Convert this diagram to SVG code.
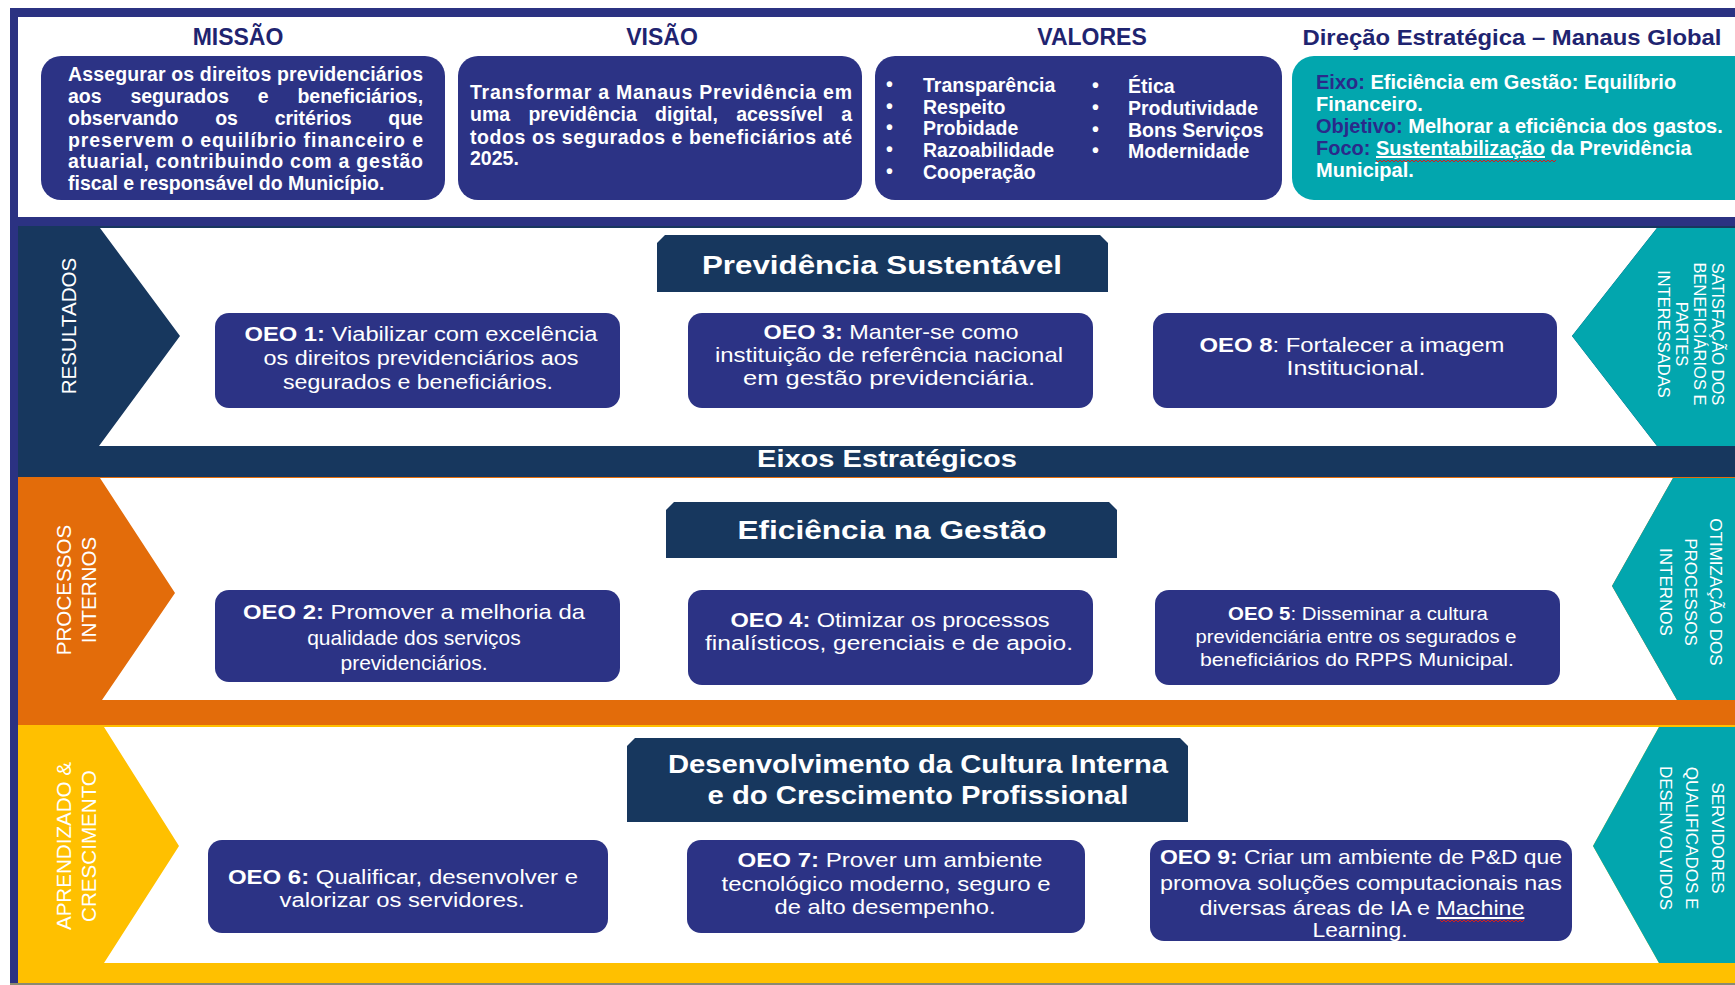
<svg xmlns="http://www.w3.org/2000/svg" width="1735" height="985" viewBox="0 0 1735 985">
<style>
text{font-family:"Liberation Sans",Arial,sans-serif}
.ttl{fill:#1F2470;font-weight:bold;font-size:23px;text-anchor:middle}
.top{fill:#ffffff;font-weight:bold;font-size:19.5px}
.box{fill:#2C3385}
.hdr{fill:#17375E}
.teal{fill:#02A6AE}
.oeo{fill:#ffffff;font-size:20px;text-anchor:middle}
.hd{fill:#ffffff;font-weight:bold;font-size:26px;text-anchor:middle}
.lab{fill:#ffffff;font-size:20.6px;text-anchor:middle}
.rlab{fill:#ffffff;font-size:16px;text-anchor:middle}
.nv{fill:#2A2A8A;font-weight:bold}
.wavy{fill:none;stroke:#D02020;stroke-width:1}
</style>
<rect x="0" y="0" width="1735" height="985" fill="#ffffff"/>
<!-- frame -->
<rect x="10" y="8" width="1725" height="977" fill="#2B3282"/>
<rect x="18" y="17" width="1717" height="200" fill="#ffffff"/>

<!-- band 1 -->
<g id="band-resultados">
<rect x="18" y="226" width="1717" height="251" fill="#17375E"/>
<polygon points="100,228 1657,228 1572,336 1657,446 99,446 180,336" fill="#ffffff"/>
<polygon points="1657,228 1735,228 1735,446 1657,446 1572,336" class="teal"/>
<text class="lab" transform="translate(76,326) rotate(-90)">RESULTADOS</text>
<text class="rlab" transform="translate(1712,334) rotate(90)" style="font-size:16.5px"><tspan x="0" y="0">SATISFAÇÃO DOS</tspan><tspan x="0" dy="18">BENEFICIÁRIOS E</tspan><tspan x="0" dy="18">PARTES</tspan><tspan x="0" dy="18">INTERESSADAS</tspan></text>
<text class="hd" x="887" y="467" style="font-size:24px" textLength="260" lengthAdjust="spacingAndGlyphs">Eixos Estratégicos</text>
</g>

<!-- band 2 -->
<g id="band-processos">
<rect x="18" y="477" width="1717" height="248" fill="#E36C0A"/>
<polygon points="100,478 1673,478 1612,586 1677,700 102,700 175,593" fill="#ffffff"/>
<polygon points="1673,478 1735,478 1735,700 1677,700 1612,586" class="teal"/>
<text class="lab" transform="translate(70.5,590) rotate(-90)"><tspan x="0" y="0">PROCESSOS</tspan><tspan x="0" dy="25.5">INTERNOS</tspan></text>
<text class="rlab" transform="translate(1710,592) rotate(90)" style="font-size:17px"><tspan x="0" y="0">OTIMIZAÇÃO DOS</tspan><tspan x="0" dy="25">PROCESSOS</tspan><tspan x="0" dy="25">INTERNOS</tspan></text>
</g>

<!-- band 3 -->
<g id="band-aprendizado">
<rect x="18" y="725" width="1717" height="258" fill="#FFC000"/>
<polygon points="104,727 1659,727 1593,846 1659,963 104,963 179,846" fill="#ffffff"/>
<polygon points="1659,727 1735,727 1735,963 1659,963 1593,846" class="teal"/>
<text class="lab" transform="translate(70.5,846) rotate(-90)"><tspan x="0" y="0">APRENDIZADO &amp;</tspan><tspan x="0" dy="25.5">CRESCIMENTO</tspan></text>
<text class="rlab" transform="translate(1712,838) rotate(90)" style="font-size:17px"><tspan x="0" y="0">SERVIDORES</tspan><tspan x="0" dy="26">QUALIFICADOS E</tspan><tspan x="0" dy="26">DESENVOLVIDOS</tspan></text>
</g>
<rect x="10" y="983" width="1725" height="2" fill="#8A8A70"/>

<!-- top panel -->
<g id="missao">
<text class="ttl" x="238" y="45">MISSÃO</text>
<rect x="41" y="56" width="404" height="144" rx="20" class="box"/>
<text class="top">
<tspan x="68" y="81" textLength="355" lengthAdjust="spacing">Assegurar os direitos previdenciários</tspan>
<tspan x="68" y="103">aos</tspan><tspan x="130.4" y="103">segurados</tspan><tspan x="257.8" y="103">e</tspan><tspan x="297.4" y="103">beneficiários,</tspan>
<tspan x="68" y="125">observando</tspan><tspan x="215.2" y="125">os</tspan><tspan x="274.7" y="125">critérios</tspan><tspan x="388.3" y="125">que</tspan>
<tspan x="68" y="146.5" textLength="355" lengthAdjust="spacing">preservem o equilíbrio financeiro e</tspan>
<tspan x="68" y="168" textLength="355" lengthAdjust="spacing">atuarial, contribuindo com a gestão</tspan>
<tspan x="68" y="189.5">fiscal e responsável do Município.</tspan>
</text>
</g>
<g id="visao">
<text class="ttl" x="662" y="45">VISÃO</text>
<rect x="458" y="56" width="404" height="144" rx="20" class="box"/>
<text class="top">
<tspan x="470" y="99" textLength="382" lengthAdjust="spacing">Transformar a Manaus Previdência em</tspan>
<tspan x="470" y="121">uma</tspan><tspan x="528.4" y="121">previdência</tspan><tspan x="655.1" y="121">digital,</tspan><tspan x="736.2" y="121">acessível</tspan><tspan x="841.2" y="121">a</tspan>
<tspan x="470" y="143.5" textLength="382" lengthAdjust="spacing">todos os segurados e beneficiários até</tspan>
<tspan x="470" y="164.5">2025.</tspan>
</text>
</g>
<g id="valores">
<text class="ttl" x="1092" y="45">VALORES</text>
<rect x="875" y="56" width="407" height="144" rx="20" class="box"/>
<text class="top">
<tspan x="886" y="91">•</tspan><tspan x="923" y="92">Transparência</tspan>
<tspan x="886" y="113">•</tspan><tspan x="923" y="114">Respeito</tspan>
<tspan x="886" y="134">•</tspan><tspan x="923" y="135">Probidade</tspan>
<tspan x="886" y="156">•</tspan><tspan x="923" y="157">Razoabilidade</tspan>
<tspan x="886" y="178">•</tspan><tspan x="923" y="179">Cooperação</tspan>
<tspan x="1092" y="92">•</tspan><tspan x="1128" y="93">Ética</tspan>
<tspan x="1092" y="114">•</tspan><tspan x="1128" y="115">Produtividade</tspan>
<tspan x="1092" y="136">•</tspan><tspan x="1128" y="137">Bons Serviços</tspan>
<tspan x="1092" y="157">•</tspan><tspan x="1128" y="158">Modernidade</tspan>
</text>
</g>
<g id="direcao">
<text class="ttl" x="1512" y="45" style="font-size:22px" textLength="419" lengthAdjust="spacingAndGlyphs">Direção Estratégica – Manaus Global</text>
<rect x="1292" y="56" width="470" height="144" rx="22" class="teal"/>
<text class="top" style="font-size:20px">
<tspan x="1316" y="89"><tspan class="nv">Eixo:</tspan> Eficiência em Gestão: Equilíbrio</tspan>
<tspan x="1316" y="111">Financeiro.</tspan>
<tspan x="1316" y="133"><tspan class="nv">Objetivo:</tspan> Melhorar a eficiência dos gastos.</tspan>
<tspan x="1316" y="155"><tspan class="nv">Foco:</tspan> <tspan text-decoration="underline">Sustentabilização</tspan> da Previdência</tspan>
<tspan x="1316" y="177">Municipal.</tspan>
</text>
<path class="wavy" d="M1376,160 l2,2 l2,-2 l2,2 l2,-2 l2,2 l2,-2 l2,2 l2,-2 l2,2 l2,-2 l2,2 l2,-2 l2,2 l2,-2 l2,2 l2,-2 l2,2 l2,-2 l2,2 l2,-2 l2,2 l2,-2 l2,2 l2,-2 l2,2 l2,-2 l2,2 l2,-2 l2,2 l2,-2 l2,2 l2,-2 l2,2 l2,-2 l2,2 l2,-2 l2,2 l2,-2 l2,2 l2,-2 l2,2 l2,-2 l2,2 l2,-2 l2,2 l2,-2 l2,2 l2,-2 l2,2 l2,-2 l2,2 l2,-2 l2,2 l2,-2 l2,2 l2,-2 l2,2 l2,-2 l2,2 l2,-2 l2,2 l2,-2 l2,2 l2,-2 l2,2 l2,-2 l2,2 l2,-2 l2,2 l2,-2 l2,2 l2,-2 l2,2 l2,-2 l2,2 l2,-2 l2,2 l2,-2 l2,2 l2,-2 l2,2 l2,-2 l2,2 l2,-2 l2,2 l2,-2 l2,2 l2,-2 l2,2 l2,-2"/>
</g>

<!-- headers -->
<g id="hdr-previdencia">
<path class="hdr" d="M665,235 H1100 L1108,243 V292 H657 V243 Z"/>
<text class="hd" x="882" y="274" textLength="360" lengthAdjust="spacingAndGlyphs">Previdência Sustentável</text>
</g>
<g id="hdr-eficiencia">
<path class="hdr" d="M674,502 H1109 L1117,510 V558 H666 V510 Z"/>
<text class="hd" x="892" y="539" textLength="309" lengthAdjust="spacingAndGlyphs">Eficiência na Gestão</text>
</g>
<g id="hdr-desenvolvimento">
<path class="hdr" d="M635,738 H1180 L1188,746 V822 H627 V746 Z"/>
<text class="hd"><tspan x="918" y="773" textLength="500" lengthAdjust="spacingAndGlyphs">Desenvolvimento da Cultura Interna</tspan><tspan x="918" y="804" textLength="421" lengthAdjust="spacingAndGlyphs">e do Crescimento Profissional</tspan></text>
</g>

<!-- OEO nodes -->
<g id="oeo1">
<rect x="215" y="313" width="405" height="95" rx="14" class="box"/>
<text class="oeo"><tspan x="421" y="341" textLength="353" lengthAdjust="spacingAndGlyphs"><tspan font-weight="bold">OEO 1:</tspan> Viabilizar com excelência</tspan><tspan x="421" y="365" textLength="315" lengthAdjust="spacingAndGlyphs">os direitos previdenciários aos</tspan><tspan x="418" y="389" textLength="270" lengthAdjust="spacingAndGlyphs">segurados e beneficiários.</tspan></text>
</g>
<g id="oeo3">
<rect x="688" y="313" width="405" height="95" rx="14" class="box"/>
<text class="oeo" style="font-size:21px"><tspan x="891" y="339" textLength="255" lengthAdjust="spacingAndGlyphs"><tspan font-weight="bold">OEO 3:</tspan> Manter-se como</tspan><tspan x="889" y="362" textLength="348" lengthAdjust="spacingAndGlyphs">instituição de referência nacional</tspan><tspan x="889" y="385" textLength="292" lengthAdjust="spacingAndGlyphs">em gestão previdenciária.</tspan></text>
</g>
<g id="oeo8">
<rect x="1153" y="313" width="404" height="95" rx="14" class="box"/>
<text class="oeo" style="font-size:21px"><tspan x="1352" y="352" textLength="305" lengthAdjust="spacingAndGlyphs"><tspan font-weight="bold">OEO 8</tspan>: Fortalecer a imagem</tspan><tspan x="1356" y="375" textLength="139" lengthAdjust="spacingAndGlyphs">Institucional.</tspan></text>
</g>
<g id="oeo2">
<rect x="215" y="590" width="405" height="92" rx="14" class="box"/>
<text class="oeo" style="font-size:21px"><tspan x="414" y="619" textLength="342" lengthAdjust="spacingAndGlyphs"><tspan font-weight="bold">OEO 2:</tspan> Promover a melhoria da</tspan><tspan x="414" y="644.5">qualidade dos serviços</tspan><tspan x="414" y="669.5">previdenciários.</tspan></text>
</g>
<g id="oeo4">
<rect x="688" y="590" width="405" height="95" rx="14" class="box"/>
<text class="oeo"><tspan x="890" y="627" textLength="319" lengthAdjust="spacingAndGlyphs"><tspan font-weight="bold">OEO 4:</tspan> Otimizar os processos</tspan><tspan x="889" y="650" textLength="368" lengthAdjust="spacingAndGlyphs">finalísticos, gerenciais e de apoio.</tspan></text>
</g>
<g id="oeo5">
<rect x="1155" y="590" width="405" height="95" rx="14" class="box"/>
<text class="oeo" style="font-size:17.5px"><tspan x="1358" y="620" textLength="260" lengthAdjust="spacingAndGlyphs"><tspan font-weight="bold">OEO 5</tspan>: Disseminar a cultura</tspan><tspan x="1356" y="643" textLength="321" lengthAdjust="spacingAndGlyphs">previdenciária entre os segurados e</tspan><tspan x="1357" y="666" textLength="314" lengthAdjust="spacingAndGlyphs">beneficiários do RPPS Municipal.</tspan></text>
</g>
<g id="oeo6">
<rect x="208" y="840" width="400" height="93" rx="14" class="box"/>
<text class="oeo"><tspan x="403" y="884" textLength="350" lengthAdjust="spacingAndGlyphs"><tspan font-weight="bold">OEO 6:</tspan> Qualificar, desenvolver e</tspan><tspan x="402" y="907" textLength="245" lengthAdjust="spacingAndGlyphs">valorizar os servidores.</tspan></text>
</g>
<g id="oeo7">
<rect x="687" y="840" width="398" height="93" rx="14" class="box"/>
<text class="oeo" style="font-size:21px"><tspan x="890" y="867" textLength="305" lengthAdjust="spacingAndGlyphs"><tspan font-weight="bold">OEO 7:</tspan> Prover um ambiente</tspan><tspan x="886" y="891" textLength="329" lengthAdjust="spacingAndGlyphs">tecnológico moderno, seguro e</tspan><tspan x="885" y="914" textLength="221" lengthAdjust="spacingAndGlyphs">de alto desempenho.</tspan></text>
</g>
<g id="oeo9">
<rect x="1150" y="840" width="422" height="101" rx="14" class="box"/>
<text class="oeo" style="font-size:21px"><tspan x="1361" y="864" textLength="402" lengthAdjust="spacingAndGlyphs"><tspan font-weight="bold">OEO 9:</tspan> Criar um ambiente de P&amp;D que</tspan><tspan x="1361" y="890" textLength="402" lengthAdjust="spacingAndGlyphs">promova soluções computacionais nas</tspan><tspan x="1362" y="915" textLength="325" lengthAdjust="spacingAndGlyphs">diversas áreas de IA e <tspan text-decoration="underline">Machine</tspan></tspan><tspan x="1360" y="937" textLength="95" lengthAdjust="spacingAndGlyphs">Learning.</tspan></text>
<path class="wavy" d="M1440,920 l2,2 l2,-2 l2,2 l2,-2 l2,2 l2,-2 l2,2 l2,-2 l2,2 l2,-2 l2,2 l2,-2 l2,2 l2,-2 l2,2 l2,-2 l2,2 l2,-2 l2,2 l2,-2 l2,2 l2,-2 l2,2 l2,-2 l2,2 l2,-2 l2,2 l2,-2 l2,2 l2,-2 l2,2 l2,-2 l2,2 l2,-2 l2,2 l2,-2 l2,2 l2,-2 l2,2 l2,-2 l2,2 l2,-2"/>
</g>
<g id="connectors"/>
</svg>
